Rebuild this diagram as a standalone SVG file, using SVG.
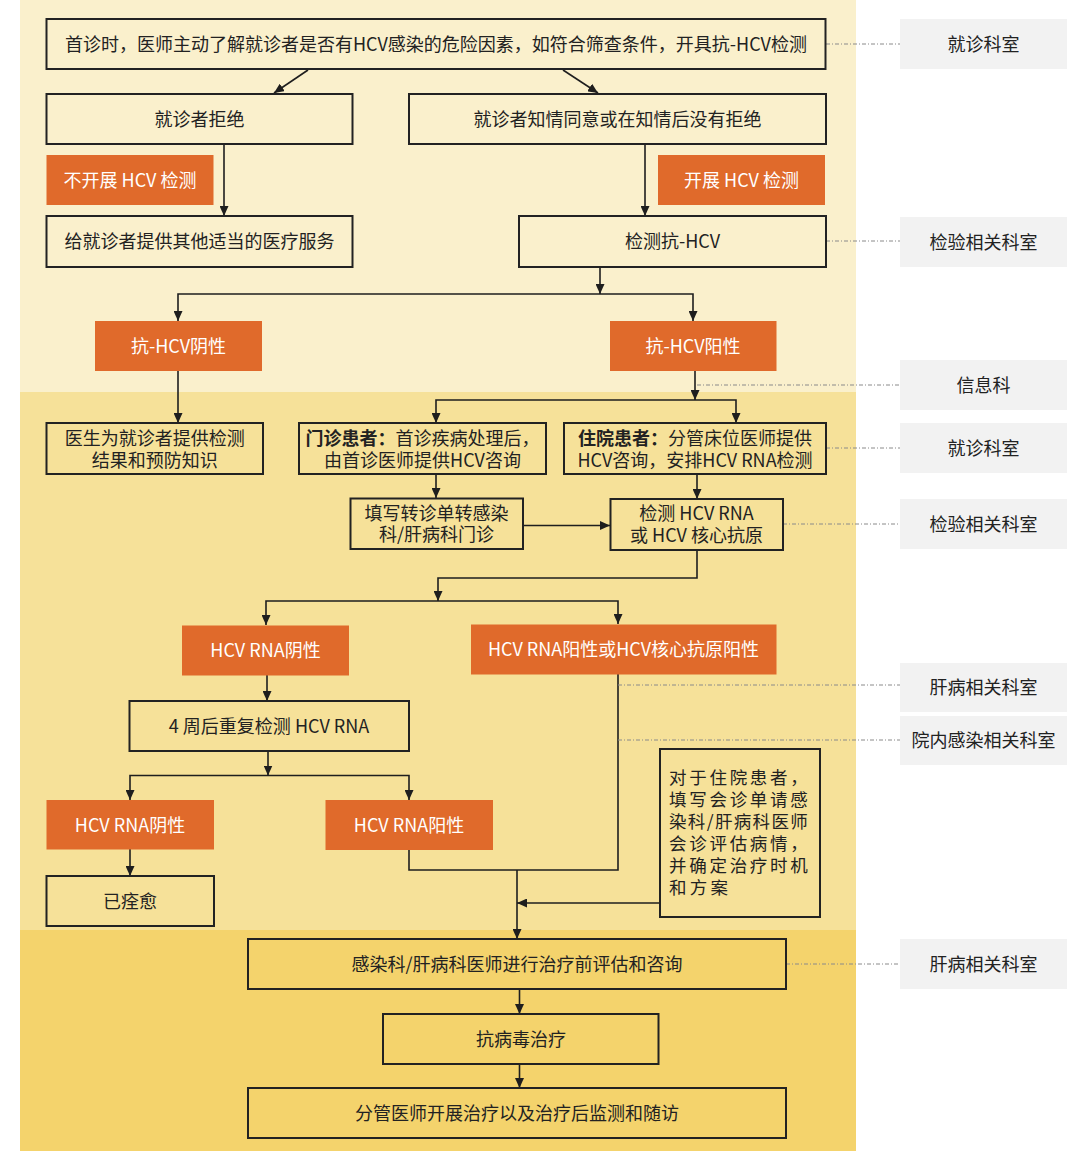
<svg xmlns="http://www.w3.org/2000/svg" width="1080" height="1158" viewBox="0 0 1080 1158">
<defs>
<marker id="ah" markerWidth="10" markerHeight="9" refX="10" refY="4.5" orient="auto" markerUnits="userSpaceOnUse">
<path d="M0,0 L10,4.5 L0,9 z" fill="#1e1e1e"/>
</marker>
<style>
text{font-family:"Noto Sans CJK SC","Noto Sans",sans-serif;font-size:18px;fill:#222;}
.c{text-anchor:middle;}
.box{fill:none;stroke:#222;stroke-width:2;}
.or{fill:#E06A2B;}
.ot{fill:#fff;text-anchor:middle;}
.lab{fill:#F2F2F2;}
.con{fill:none;stroke:#1e1e1e;stroke-width:1.6;}
.arr{fill:none;stroke:#1e1e1e;stroke-width:1.6;marker-end:url(#ah);}
.dash{fill:none;stroke:#8a8a8a;stroke-width:1;stroke-dasharray:4 2 1 2;}
.b{font-weight:700;}
.g{font-size:17.5px;letter-spacing:3.2px;}
</style>
</defs>
<rect x="0" y="0" width="1080" height="1158" fill="#ffffff"/>
<rect x="20" y="0" width="836" height="392" fill="#FAF0CC"/>
<rect x="20" y="392" width="836" height="538" fill="#F6E199"/>
<rect x="20" y="930" width="836" height="221" fill="#F4D36C"/>

<g id="labels">
<g id="lab1"><rect class="lab" x="900" y="19" width="167" height="50"/><text class="c" x="983.5" y="50.5">就诊科室</text></g>
<g id="lab2"><rect class="lab" x="900" y="217" width="167" height="50"/><text class="c" x="983.5" y="248.5">检验相关科室</text></g>
<g id="lab3"><rect class="lab" x="900" y="360" width="167" height="50"/><text class="c" x="983.5" y="391.5">信息科</text></g>
<g id="lab4"><rect class="lab" x="900" y="423" width="167" height="50"/><text class="c" x="983.5" y="454.5">就诊科室</text></g>
<g id="lab5"><rect class="lab" x="900" y="499" width="167" height="50"/><text class="c" x="983.5" y="530.5">检验相关科室</text></g>
<g id="lab6"><rect class="lab" x="900" y="663" width="167" height="49"/><text class="c" x="983.5" y="694">肝病相关科室</text></g>
<g id="lab7"><rect class="lab" x="900" y="716" width="167" height="49"/><text class="c" x="983.5" y="747">院内感染相关科室</text></g>
<g id="lab8"><rect class="lab" x="900" y="939" width="167" height="50"/><text class="c" x="983.5" y="970.5">肝病相关科室</text></g>
</g>

<g id="connectors">
<path class="arr" d="M308,70 L274,93"/>
<path class="arr" d="M563,70 L598,93"/>
<path class="arr" d="M224,144 V216"/>
<path class="arr" d="M645,144 V216"/>
<path class="arr" d="M600,267 V294"/>
<path class="arr" d="M400,294 H178 V321"/>
<path class="arr" d="M400,294 H693 V321"/>
<path class="arr" d="M178,371 V423"/>
<path class="arr" d="M695,371 V400"/>
<path class="arr" d="M600,400 H436 V423"/>
<path class="arr" d="M600,400 H736 V423"/>
<path class="arr" d="M436,474 V498"/>
<path class="arr" d="M697,474 V499"/>
<path class="arr" d="M523,525.5 H610"/>
<path class="arr" d="M697,550 V578 H438 V601"/>
<path class="arr" d="M438,601 H266 V625"/>
<path class="arr" d="M438,601 H618 V624"/>
<path class="arr" d="M267,675 V701"/>
<path class="arr" d="M268,751 V775.5"/>
<path class="arr" d="M268,775.5 H130 V800"/>
<path class="arr" d="M268,775.5 H409 V800"/>
<path class="arr" d="M130,849 V876"/>
<path class="con" d="M618,674 V870 H409 V850"/>
<path class="arr" d="M517,870 V939"/>
<path class="arr" d="M660,903 H517"/>
<path class="arr" d="M519.5,989 V1014"/>
<path class="arr" d="M519.5,1064 V1088"/>
<path class="dash" d="M826,44 H900"/>
<path class="dash" d="M826,241 H900"/>
<path class="dash" d="M697,385 H900"/>
<path class="dash" d="M826,448 H900"/>
<path class="dash" d="M783,524 H900"/>
<path class="dash" d="M618,685 H900"/>
<path class="dash" d="M618,740 H900"/>
<path class="dash" d="M786,964 H900"/>
</g>

<g id="nA"><rect class="box" x="46.5" y="19" width="779" height="50"/><text class="c" x="436" y="50.5">首诊时，医师主动了解就诊者是否有HCV感染的危险因素，如符合筛查条件，开具抗-HCV检测</text></g>
<g id="nB1"><rect class="box" x="46.5" y="94" width="306" height="50"/><text class="c" x="199.5" y="125.5">就诊者拒绝</text></g>
<g id="nB2"><rect class="box" x="409" y="94" width="417" height="50"/><text class="c" x="617.5" y="125.5">就诊者知情同意或在知情后没有拒绝</text></g>
<g id="oNo"><rect class="or" x="46.5" y="155" width="167" height="50"/><text class="ot" x="130" y="186.5">不开展 HCV 检测</text></g>
<g id="oYes"><rect class="or" x="658" y="155" width="167" height="50"/><text class="ot" x="741.5" y="186.5">开展 HCV 检测</text></g>
<g id="nC1"><rect class="box" x="46.5" y="216" width="306" height="51"/><text class="c" x="199.5" y="247.5">给就诊者提供其他适当的医疗服务</text></g>
<g id="nC2"><rect class="box" x="519" y="216" width="307" height="51"/><text class="c" x="672.5" y="247.5">检测抗-HCV</text></g>
<g id="oNeg"><rect class="or" x="95" y="321" width="167" height="50"/><text class="ot" x="178.5" y="352.5">抗-HCV阴性</text></g>
<g id="oPos"><rect class="or" x="610" y="321" width="166.5" height="50"/><text class="ot" x="693" y="352.5">抗-HCV阳性</text></g>
<g id="nD1"><rect class="box" x="46.5" y="423" width="216.5" height="51"/><text class="c" x="154.75" y="444.5">医生为就诊者提供检测</text><text class="c" x="154.75" y="466.5">结果和预防知识</text></g>
<g id="nD2"><rect class="box" x="299" y="423" width="247" height="51"/><text class="c" x="422.5" y="444.5"><tspan class="b">门诊患者：</tspan>首诊疾病处理后，</text><text class="c" x="422.5" y="466.5">由首诊医师提供HCV咨询</text></g>
<g id="nD3"><rect class="box" x="564" y="423" width="262" height="51"/><text class="c" x="695" y="444.5"><tspan class="b">住院患者：</tspan>分管床位医师提供</text><text class="c" x="695" y="466.5">HCV咨询，安排HCV RNA检测</text></g>
<g id="nE1"><rect class="box" x="350.5" y="498.5" width="172.5" height="50.5"/><text class="c" x="436.5" y="519.5">填写转诊单转感染</text><text class="c" x="436.5" y="540.5">科/肝病科门诊</text></g>
<g id="nE2"><rect class="box" x="610.5" y="499" width="172.5" height="51"/><text class="c" x="696.5" y="519.5">检测 HCV RNA</text><text class="c" x="696.5" y="541.5">或 HCV 核心抗原</text></g>
<g id="oRneg"><rect class="or" x="182" y="625.5" width="167" height="50"/><text class="ot" x="265.5" y="656.5">HCV RNA阴性</text></g>
<g id="oRpos"><rect class="or" x="471" y="624.5" width="305.5" height="50"/><text class="ot" x="623.5" y="655.5">HCV RNA阳性或HCV核心抗原阳性</text></g>
<g id="nF"><rect class="box" x="129.5" y="701" width="279.5" height="50"/><text class="c" x="269" y="732.5">4 周后重复检测 HCV RNA</text></g>
<g id="oRneg2"><rect class="or" x="46.5" y="800" width="167.5" height="49.5"/><text class="ot" x="130" y="831.5">HCV RNA阴性</text></g>
<g id="oRpos2"><rect class="or" x="325.5" y="800" width="167.5" height="50"/><text class="ot" x="409" y="831.5">HCV RNA阳性</text></g>
<g id="nCured"><rect class="box" x="46.5" y="876" width="167.5" height="50"/><text class="c" x="130" y="907.5">已痊愈</text></g>
<g id="nG"><rect class="box" x="660" y="749" width="160" height="168"/>
<text class="g" x="669" y="784" textLength="142" lengthAdjust="spacing">对于住院患者，</text>
<text class="g" x="669" y="806" textLength="142" lengthAdjust="spacing">填写会诊单请感</text>
<text class="g" x="669" y="828" textLength="142" lengthAdjust="spacing">染科/肝病科医师</text>
<text class="g" x="669" y="849.5" textLength="142" lengthAdjust="spacing">会诊评估病情，</text>
<text class="g" x="669" y="872" textLength="142" lengthAdjust="spacing">并确定治疗时机</text>
<text class="g" x="669" y="894">和方案</text>
</g>
<g id="nH"><rect class="box" x="248" y="939" width="538" height="50"/><text class="c" x="517" y="970.5">感染科/肝病科医师进行治疗前评估和咨询</text></g>
<g id="nI"><rect class="box" x="383" y="1014" width="275.5" height="50"/><text class="c" x="521" y="1045.5">抗病毒治疗</text></g>
<g id="nJ"><rect class="box" x="248" y="1088" width="538" height="50"/><text class="c" x="517" y="1119.5">分管医师开展治疗以及治疗后监测和随访</text></g>
</svg>
